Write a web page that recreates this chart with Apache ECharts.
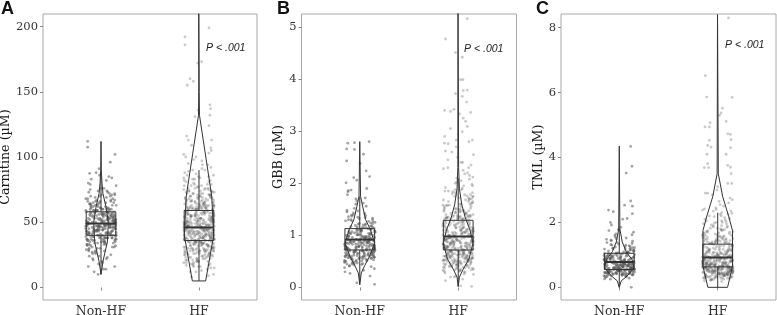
<!DOCTYPE html>
<html><head><meta charset="utf-8">
<style>html,body{margin:0;padding:0;background:#fff}#c{width:777px;height:315px}</style>
<script src="https://cdn.jsdelivr.net/npm/echarts@6/dist/echarts.min.js"></script>
</head><body><div id="c"></div>
<script>
const categories = ['Non-HF', 'HF'];
const panelLetters = ['A', 'B', 'C'];
const yNames = ['Carnitine (µM)', 'GBB (µM)', 'TML (µM)'];
const ticksA = [0, 50, 100, 150, 200];
const ticksB = [0, 1, 2, 3, 4, 5];
const ticksC = [0, 2, 4, 6, 8];

// x jitter of the dense points, in axis units
const jitter = [-.12,.07,-.03,.14,-.09,.02,.11,-.15,.05,-.06,.13,-.01,-.13,.09,.03,-.11,.15,-.04,.06,-.14,.01,.12,-.08,.1,-.02,.04,-.1,.145,-.055,.085,-.125,.025,.115,-.075,-.015,.135,-.145,.055,-.035,.095,-.105,.015,.125,-.065,.075,-.025,.155,-.135,.035,-.085,.105,-.045,.065,-.155,.005,.148,-.115,.045,-.005];

const denseANon = [49,38,62,55,27,44,71,51,33,58,46,66,41,53,36,75,48,30,60,43,52,68,39,25,56,47,63,35,50,72,42,57,31,45,65,54,37,22,59,48,70,40,52,34,61,44,78,50,28,55,43,67,38,47,57,32,64,49,41,24,53,74,36,46,60,51,29,42,69,56,39,80,48,33,58,45,63,52,37,20,54,43,66,47,35,61,50,26,41,73,56,38,59,44,31,49,82,53,40,64,46,34,57,51,18,42,68,48,36,60,55,23,45,76,39,52,62,47,30,54,43,71,50,37,84,58,41,28,65,46,16,53,35,79,49,44,61,32,56,40,21,67,48,38,83,52,27,59,45,14,63,42,86,50,33,55,47,70,39,19,
  51,44,57,40,63,48,35,54,46,59,42,68,50,37,56,45,61,33,52,47,72,41,55,38,49,65,43,58,30,53,46,39,60,50,44,74,36,56,48,62,41,52,34,57,45,66,49,28,54,43,59,38,51,47,69,40,55,32,60,46,53,42,64,37,50,48,26,56,44,58,39,71,52,35,47,61,41,54,45,67,31,50,57,43,38,63,49,53,36,46,76,55,40,59,48,33,51,44,65,42,24,56,37,52,47,60,29,45,54,39,70,50,41,58,34,48,62,44,53,36,57,46,40,66,51,22,55,43,49,59,35,47,64,38,52,42,73];
const outANon = [[-.136,112],[-.136,107.5],[.143,102],[.095,96],[-.02,91],[-.116,87.5],[.08,85],[-.05,88],[.14,16],[-.07,12],[-.03,10],[.05,14]];

const denseAHF = [46,36,59,28,71,41,52,22,64,48,33,80,44,56,38,18,67,50,30,43,75,54,25,61,47,35,90,40,58,15,49,69,32,45,55,27,84,42,63,37,51,20,72,46,34,60,12,53,39,78,44,29,57,48,66,24,41,95,50,36,62,31,47,74,54,17,43,38,68,52,26,58,45,33,82,49,21,40,64,56,35,9,47,70,42,30,60,51,37,100,46,23,55,39,76,44,28,65,50,34,16,53,41,87,48,32,61,57,25,43,72,38,52,19,59,46,35,67,40,29,54,45,92,36,63,49,22,42,56,33,79,47,13,51,38,69,44,27,58,41,31,74,53,105,37,48,20,62,45,34,55,26,43,66,50,39,10,57,30,85,46,41,60,24,52,35,71,48,37,18,54,43,64,32,97,47,28,56,40,68,51,15,44,36,77,49,23,59,42,33,61,46,38,8,53,73,29,45,55,41,89,35,50,21,63,47,31,58,44,70,26,52,39,102,48,34,
  47,39,55,43,61,35,50,28,66,45,37,57,41,52,32,73,48,24,59,44,36,64,49,40,54,30,81,46,38,56,42,19,62,51,34,69,47,27,53,40,58,36,76,44,49,31,60,45,22,55,38,67,50,42,33,57,46,26,63,41,52,37,86,48,29,59,43,35,71,54,45,17,39,61,50,32,56,47,40,65,25,44,53,36,78,48,30,58,42,51,34,14,62,46,38,55,41,68,49,28,57,43,35,74,52,45,23,60,37,47,33,54,40,83,50,31,64,44,56,39,20,48,36,59,42,70,53,27,46,34,61,41,51,38,94,45,30,57,49,43,25,63,37,55,47,35,72,40,52,16,44,58,32,48,66,41,54,36,29,60,45,50,38,79,43,33,56,47,21,62,39,53,35,46,75,42,28,59,49,37,51,44,12,65,34,57,40,48,
  63,72,25,68,81,20,60,76,30,66,90,27,62,70,18,85,64,24,74,61,98,29,67,78,22,63,71,31,88,65,26,75,60,16,69,83,28,62,73,23,94,66,32,79,61,19,70,86,26,64,77,21,68,100,30,62,72,24,82,65,28,74,60,17,67,91,25,63,76,22,69,84,29,61,71,20];
const outAHF = [[-.143,192],[-.143,186],[.102,199],[.027,173],[-.014,172],[-.092,160],[-.058,158],[-.119,155],[.112,140],[.119,137],[.112,132],[-.007,136],[-.041,131],[.102,124],[-.126,116],[-.109,113],[.129,113],[-.075,109],[.12,107],[.1,103]];

const denseBNon = [.92,.72,1.13,.6,1.3,.85,1.02,.5,.95,.68,1.22,.78,1.45,.88,.55,1.08,.74,1.6,.98,.63,.82,1.18,.45,.9,1.35,.7,1.04,.58,1.52,.86,.76,1.15,.4,.96,.66,1.26,.8,1.72,.52,1,.73,1.1,.62,1.4,.89,.47,1.06,.77,1.2,.57,.93,.69,1.56,.83,1.12,.36,.99,.65,1.32,.75,.87,1.66,.53,1.03,.71,1.24,.6,.91,.43,1.16,.79,1.48,.67,.97,.84,1.09,.5,1.38,.73,.94,.56,1.28,.81,1.01,.33,.7,1.14,.88,.64,1.78,.76,1.05,.48,1.21,.9,.59,1.34,.78,.96,.42,1.11,.68,1.43,.85,.61,1.07,.74,1.62,.54,.92,1.19,.72,.38,1,.8,1.3,.66,.89,1.84,.51,1.06,.75,1.17,.58,.95,.3,1.42,.7,.83,1.1,.63,1.27,.46,.98,.77,1.7,.55,.86,1.02,.69,1.37,.6,.91,1.15,
  .88,.71,1.05,.62,.95,.78,1.12,.54,.84,1,.67,1.2,.74,.9,.58,1.08,.8,.49,.97,.65,1.25,.76,.86,.6,1.03,.72,1.15,.52,.92,.69,1.36,.82,.57,.99,.75,1.1,.63,.89,.44,1.18,.79,.94,.66,1.3,.55,.85,1.04,.7,.6,.96,.77,1.22,.5,.87,.64,1.07,.73,1.47,.59,.91,.81,.46,1.13,.68,.98,.56,.83,1.02,.74,1.28,.61,.93,.78,.41,1.09,.66,.88,.53,1.16,.72,1,.6,1.39,.84,.69,.95,.48,1.06,.76,.63,.9,1.23,.57,.8,1.01,.67,.86,.51,1.11,.73,.97,.62,1.33,.79,.45,.92,.7,1.05,.58,.83];
const outBNon = [[-.122,2.77],[-.054,2.78],[.095,2.8],[-.133,2.66],[-.054,2.65],[-.133,2.43],[.037,2.56],[.003,2.38],[.065,2.24],[.1,2.13],[-.061,2.11],[-.139,2.01],[-.03,2.06],[-.088,1.87],[-.116,1.86],[.071,1.9],[-.03,.09],[.15,.06],[.105,.22],[-.099,.27]];

const denseBHF = [.98,.72,1.29,.58,1.6,.85,1.12,.45,1.9,.78,1.04,.65,1.42,.92,.35,1.22,.7,2.1,.88,.52,1.15,1.75,.6,.95,1.35,.75,.4,1.08,1.5,.82,.28,1.25,.68,2.3,1,.55,1.18,.9,1.65,.62,1.32,.48,.8,1.05,2,.73,.95,1.45,.38,1.1,.66,1.8,.86,.5,1.28,.76,2.4,.93,.57,1.2,.3,1.55,.7,1.02,.83,1.38,.43,1.13,.64,1.95,.9,.54,1.24,.78,1.7,.97,.36,1.07,.6,1.48,.74,2.2,.87,.47,1.16,.68,1.33,.94,.25,1.85,.8,.56,1.03,1.27,.71,1.58,.41,.89,1.1,.63,2.5,.77,1.4,.52,.99,1.19,.33,.84,1.68,.67,1.06,.49,1.3,.91,.59,2.05,.75,1.14,.2,.96,1.52,.69,.44,1.23,.81,1.78,.61,1.01,.37,1.36,.86,.53,1.09,2.15,.72,.92,1.62,.46,1.17,.65,1.26,.79,.31,.98,2.6,.57,1.44,.88,.74,1.05,.42,1.72,.83,.62,1.21,.5,.94,1.34,.16,.7,1.11,.85,1.88,.55,1,1.46,.66,.39,1.31,.77,2.35,.9,.6,1.08,.47,1.57,.73,.97,.26,1.2,.64,1.39,.82,.54,2.7,1.03,.68,1.82,.87,.43,1.15,.76,1.25,.58,.95,.34,1.49,.71,1.06,.51,2.45,.89,1.37,.63,.8,.22,
  .96,.74,1.2,.6,1.47,.83,1.06,.52,1.72,.9,.67,1.14,.44,1.33,.79,1,.57,1.58,.86,.7,1.24,.39,.94,1.1,.62,1.92,.77,1.02,.5,1.4,.88,.65,1.17,.32,.81,1.28,.55,1.04,.72,1.65,.92,.46,1.12,.6,.85,1.36,.69,2.02,.98,.53,1.22,.76,.41,1.07,.64,1.52,.89,.58,1.15,.35,.8,1.31,.71,.97,.48,1.78,.84,.63,1.09,.55,1.26,.75,.93,.29,1.44,.67,1,.51,1.19,.82,2.25,.6,.9,.43,1.05,.73,1.6,.57,1.13,.87,.66,.37,1.34,.78,.95,.5,1.21,.7,1.85,.61,1.03,.84,.45,1.11,.68,1.42,.91,.56,.76,1.27,.34,.99,.64,1.16,.52,.86,1.68,.72,1.08,.42,.94,.6,1.3,.8,.49,1.01,.69,2.12,.88,.58,1.23,.75,.38,1.18,.65,.96,1.5,.54,.83,1.06,.71,.47,1.38,.9,.62,1.1,.78,1.75,.55,.97,.31,1.25,.67,.85,.5,1.14,.74,
  1.35,1.62,1.84,.44,1.4,1.55,2.08,1.32,.38,1.7,1.46,1.95,.5,1.36,2.3,1.6,1.78,.42,1.42,1.52,2.55,1.33,1.88,.47,1.65,1.38,2.18,.33,1.5,1.74,1.35,2.4,.55,1.58,1.44,1.82,1.98,.4,1.37,1.68,2.28,1.48,.52,1.56,1.34,2.62,1.76,.45];
const outBHF = [[-.129,4.77],[.092,5.16],[-.027,4.51],[.041,4.42],[.024,3.99],[.048,3.99],[-.027,3.72],[.051,3.78],[.092,3.79],[.041,3.67],[.085,3.56],[-.139,3.4],[-.044,3.42],[-.078,3.38],[.126,3.36],[.014,3.33],[.051,3.25],[.075,3.19],[.092,3.09],[-.078,3.05],[.041,2.99],[-.136,2.9],[.143,2.83],[.109,2.8],[-.139,2.77],[-.102,2.76],[-.02,2.83],[-.129,.13],[-.078,.2],[.136,.02],[.024,.03]];

const denseCNon = [.78,.55,1.05,.62,.9,.48,1.2,.7,.42,.85,1.35,.58,.95,.66,.38,1.12,.74,1.55,.5,.82,1.02,.6,.35,1.28,.72,.45,.88,1.7,.56,.98,.68,.4,1.15,.76,.52,1.42,.64,.84,.46,1.08,.59,1.85,.71,.92,.33,.54,1.22,.8,.63,1,.43,1.6,.69,.87,.5,1.1,.57,.75,1.33,.37,.96,.65,.47,2,.83,.6,1.18,.73,.41,.9,.53,1.48,.67,1.03,.44,.79,.58,1.25,.3,.86,.7,1.92,.51,.97,.62,.39,1.14,.77,.55,1.38,.66,.89,.46,1.06,.6,.34,.81,1.65,.72,.49,.93,.56,1.2,.64,.42,1.01,.75,2.1,.52,.85,.61,1.3,.36,.69,.94,.47,1.09,.58,.78,1.52,.43,.68,.88,.54,1.16,.26,.73,.98,.5,1.78,.63,.83,.4,1.04,.57,1.24,.71,.45,.91,.6,1.44,.76,.53,
  .74,.5,.92,.61,1.1,.44,.8,.56,1.3,.67,.38,.86,.53,1.02,.7,.47,.95,.6,1.2,.41,.77,.55,.88,.65,1.45,.49,.72,.35,.98,.58,1.14,.43,.83,.63,.52,1.06,.69,.4,.9,.56,1.26,.46,.75,.6,1.62,.51,.85,.66,.37,1,.54,.79,1.18,.45,.7,.59,.93,.42,1.38,.64,.48,.81,.55,1.08,.33,.73,.62,.96,.5,1.22,.57,.87,.44,.68,1.75,.53,.76,.4,1.03,.6,.47,.91,.65,1.32,.52,.78,.36,.84,.58,1.12,.49,.71,.63,.97,.43,1.5,.56,.82,.67,.46,1.04,.54,.74,.39,.89];
const outCNon = [[.116,4.34],[.129,3.73],[.071,3.52],[.116,2.66],[.054,2.53],[.133,2.5],[-.109,2.38],[-.061,2.33],[.08,2.12],[.133,2.27],[.122,0],[-.09,.25],[.1,.28]];

const denseCHF = [.92,.63,1.33,.48,1.7,.78,1.1,.4,2.05,.7,.95,.55,1.5,.85,.33,1.22,.6,2.4,.8,.45,1.02,.67,1.85,.52,1.15,.38,.9,.73,1.4,.58,.28,1.05,2.2,.65,.5,.87,1.6,.42,1.27,.75,.56,.98,.35,1.78,.62,1.12,.47,.83,2.6,.69,.3,1.35,.54,.95,.77,1.95,.44,1.08,.6,.88,.25,1.55,.66,.5,1.18,.37,.81,2.3,.57,1,.72,1.45,.41,.92,.63,.22,1.25,.53,1.68,.76,.46,1.06,.34,.86,2.75,.59,1.38,.68,.49,.97,.27,1.14,.61,1.9,.43,.79,.55,1.3,.71,.39,1.03,.64,2.15,.5,.89,.31,1.2,.58,1.62,.74,.45,.94,.36,1.48,.66,.52,1.1,.82,.24,2.5,.6,.42,1.28,.7,.93,.48,1.75,.56,.33,1.01,.77,.62,1.42,.44,.85,2,.53,.29,1.17,.68,.4,.96,1.58,.59,.75,.47,1.36,.65,.2,.88,1.07,.51,2.35,.38,.8,.57,1.24,.72,.43,1.82,.63,.99,.32,.54,1.12,.78,.46,1.52,.67,.26,.91,.6,2.1,.41,1.04,.73,.5,1.32,.35,.84,.58,1.65,.69,.45,.97,.18,1.2,.55,2.85,.76,.39,1.09,.62,.49,1.44,.3,.83,.65,1.98,.52,.94,.42,1.16,.7,.36,.6,1.72,.87,
  .88,.66,1.16,.52,1.46,.74,.98,.43,1.24,.6,.82,1.04,.36,.7,1.6,.55,.9,1.13,.47,.77,1.34,.62,.31,.95,.68,1.8,.5,.85,1.08,.4,.72,1.26,.57,.93,.28,1.42,.64,.79,1.18,.45,1.02,.59,2.25,.75,.34,.89,.53,1.3,.67,.97,.42,1.54,.61,.83,.24,1.1,.71,.49,1.66,.56,.92,.38,1.21,.76,.63,1.01,.46,2.05,.69,.86,.3,1.37,.54,.8,1.15,.41,.95,.6,1.76,.73,.5,1.06,.35,.88,.65,1.48,.44,.78,1.27,.58,.98,.27,.7,1.12,.52,1.9,.84,.62,.39,1.03,.67,1.56,.47,.9,.74,.33,1.23,.57,.81,.43,1.4,.64,1,.22,.72,1.17,.54,.87,2.2,.49,.68,1.07,.37,.93,.6,1.31,.76,.45,1.62,.56,.85,.29,1.14,.66,.41,.96,.71,1.5,.51,.79,.34,1.02,.59,1.28,.63,.83,.46,.91,
  1.42,1.68,2.12,1.36,1.88,2.45,1.52,1.74,2.28,1.4,2.02,1.6,2.55,1.35,1.82,1.48,2.35,1.96,1.56,2.18,1.38,1.7,2.65,1.44,1.92,2.08,1.64,1.5,2.42,1.78,1.34,2.25,1.86,1.58,2.38,1.46,2.7,1.72,2,1.54];
const outCHF = [[.109,8.3],[-.126,6.52],[-.112,5.86],[.146,5.85],[.048,5.52],[.034,5.37],[.017,5.3],[.085,5.11],[-.078,5.07],[-.129,4.94],[-.085,4.94],[.102,4.73],[.129,4.71],[.136,4.55],[-.085,4.53],[.129,4.3],[-.102,4.37],[-.068,4.32],[-.109,4.1],[.085,4.1],[-.102,3.81],[-.092,3.69],[-.136,3.69],[.102,3.76],[.129,3.7],[.136,3.5],[.143,3.2],[.102,3.2],[0,3.1],[-.126,2.9],[-.102,2.9],[-.007,3]];

// [whisker low, q1, median, q3, whisker high]
const boxANon = [10, 40, 49, 58, 85];
const boxAHF = [5, 36, 46, 59, 90];
const boxBNon = [.1, .72, .92, 1.13, 1.75];
const boxBHF = [.02, .72, .98, 1.29, 2.1];
const boxCNon = [0, .55, .78, 1.05, 1.8];
const boxCHF = [0, .63, .92, 1.33, 2.3];

// [value, half width in x-axis units]
const violinANon = [[10,0],[20,.02],[35,.065],[50,.075],[62,.05],[72,.02],[80,.01],[90,.003],[112,0]];
const violinAHF = [[5,.068],[40,.15],[70,.13],[132,.005],[150,.002],[210,.002]];
const violinBNon = [[.05,0],[.28,.015],[.42,.05],[.6,.1],[.85,.15],[1.1,.11],[1.3,.06],[1.55,.03],[1.75,.008],[2.8,0]];
const violinBHF = [[.02,0],[.2,.012],[.35,.05],[.55,.11],[.85,.15],[1.1,.12],[1.35,.07],[1.6,.035],[1.9,.012],[2.3,.004],[5.3,.002]];
const violinCNon = [[0,0],[.2,.02],[.35,.08],[.6,.15],[.85,.13],[1.1,.07],[1.4,.03],[1.8,.006],[4.35,0]];
const violinCHF = [[0,.1],[.65,.15],[1.75,.15],[2.2,.11],[2.8,.05],[3.5,.006],[8.4,.002]];

const INK = '#333', TXT = '#333', FONT = '"DejaVu Serif"';
const panels = [
  {left:43, w:214, min:-9.6, max:209.6, ticks:ticksA, dense:[denseANon,denseAHF], out:[outANon,outAHF], box:[boxANon,boxAHF], vio:[violinANon,violinAHF], px:206, py:48.5, lx:1, gap:30},
  {left:301.5, w:215, min:-.24, max:5.25, ticks:ticksB, dense:[denseBNon,denseBHF], out:[outBNon,outBHF], box:[boxBNon,boxBHF], vio:[violinBNon,violinBHF], px:464, py:50, lx:277, gap:11},
  {left:561, w:215, min:-.39, max:8.42, ticks:ticksC, dense:[denseCNon,denseCHF], out:[outCNon,outCHF], box:[boxCNon,boxCHF], vio:[violinCNon,violinCHF], px:725, py:46, lx:536, gap:11.5}
];
const grid=[], xAxis=[], yAxis=[], series=[], graphic=[];
panels.forEach((p,i)=>{
  grid.push({left:p.left, top:14, width:p.w, height:286, show:true, outerBoundsMode:'none', containLabel:false, borderColor:'#a8a8a8', borderWidth:1, backgroundColor:'#fff'});
  xAxis.push({type:'value', gridIndex:i, min:.408, max:2.592, splitLine:{show:false}, axisLine:{show:false},
    axisTick:{length:3, lineStyle:{color:'#888'}, customValues:[1,2]},
    axisLabel:{color:TXT, fontFamily:FONT, fontSize:12.5, margin:5, customValues:[1,2], formatter:v=>categories[v-1]}});
  yAxis.push({type:'value', gridIndex:i, min:p.min, max:p.max, splitLine:{show:false}, axisLine:{show:false},
    name:yNames[i], nameLocation:'middle', nameGap:p.gap, nameTextStyle:{color:'#1a1a1a', fontFamily:FONT, fontSize:12.7},
    axisTick:{length:3, lineStyle:{color:'#888'}, customValues:p.ticks},
    axisLabel:{color:TXT, fontFamily:FONT, fontSize:11.5, margin:5, customValues:p.ticks}});
  [0,1].forEach(g=>{
    const c=g+1;
    const pts=p.dense[g].map((v,k)=>[c+jitter[(k+g*17)%jitter.length],v]).concat(p.out[g].map(o=>[c+o[0],o[1]]));
    series.push({type:'scatter', xAxisIndex:i, yAxisIndex:i, data:pts, symbolSize:2.8, silent:true, animation:false,
      itemStyle:{color:'#5a5a5a', opacity:g==0?.55:.32}, z:2});
    const left=p.vio[g].map(a=>[c-a[1],a[0]]), right=p.vio[g].map(a=>[c+a[1],a[0]]).reverse();
    series.push({type:'line', xAxisIndex:i, yAxisIndex:i, data:left.concat(right, [left[0]]), symbol:'none', silent:true, animation:false,
      lineStyle:{color:INK, width:1}, z:3});
    series.push({type:'custom', xAxisIndex:i, yAxisIndex:i, data:[[c].concat(p.box[g])], silent:true, animation:false, z:4,
      renderItem:(params,api)=>{
        const x=api.value(0), hw=.151;
        const P=(a,b)=>api.coord([a,b]);
        const s={stroke:INK, fill:null, lineWidth:1};
        const line=(a,b,w)=>({type:'line', shape:{x1:a[0],y1:a[1],x2:b[0],y2:b[1]}, style:{...s, lineWidth:w||1}});
        const tl=P(x-hw,api.value(4)), br=P(x+hw,api.value(2));
        return {type:'group', children:[
          line(P(x,api.value(1)),P(x,api.value(2))),
          line(P(x,api.value(4)),P(x,api.value(5))),
          {type:'rect', shape:{x:tl[0],y:tl[1],width:br[0]-tl[0],height:br[1]-tl[1]}, style:s},
          line(P(x-hw,api.value(3)),P(x+hw,api.value(3)),2)
        ]};
      }});
  });
  graphic.push({type:'text', left:p.lx, top:0, style:{text:panelLetters[i], font:'bold 18px "Liberation Sans"', fill:'#111'}});
  graphic.push({type:'text', left:p.px, top:p.py-6, style:{text:'P < .001', font:'italic 10.5px "Liberation Sans"', fill:'#222'}});
});
const chart=echarts.init(document.getElementById('c'),null,{renderer:'canvas'});
chart.setOption({animation:false, backgroundColor:'#fff', grid, xAxis, yAxis, series, graphic});
</script></body></html>
